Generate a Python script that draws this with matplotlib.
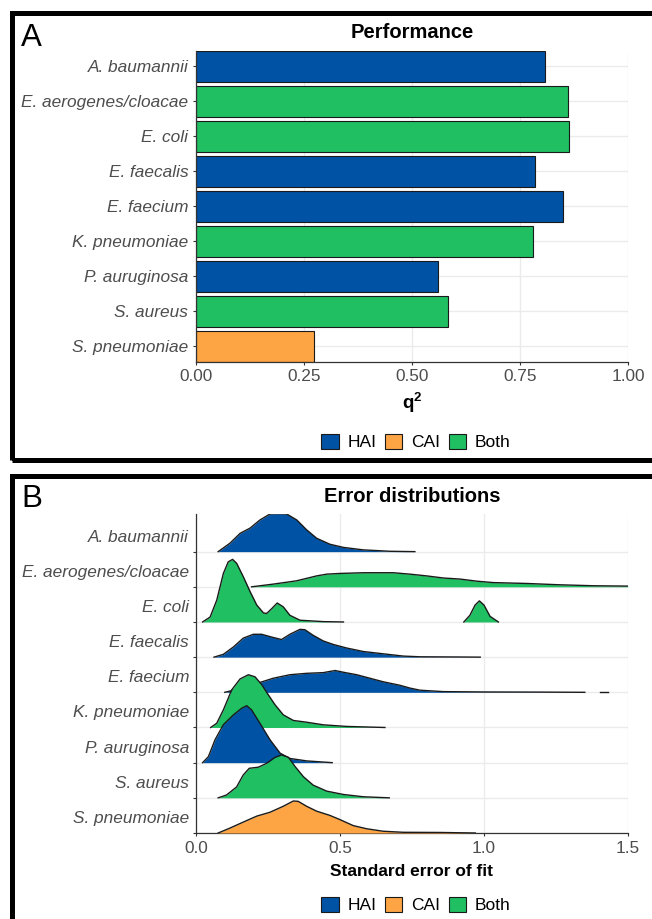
import numpy as np
import matplotlib.pyplot as plt
from matplotlib.patches import Patch, Rectangle

plt.rcParams['font.family'] = ['Liberation Sans', 'DejaVu Sans']
plt.rcParams['mathtext.fontset'] = 'custom'
plt.rcParams['mathtext.rm'] = 'Liberation Sans'
plt.rcParams['mathtext.bf'] = 'Liberation Sans:bold'

# ---- data ----
species = ['A. baumannii', 'E. aerogenes/cloacae', 'E. coli', 'E. faecalis',
           'E. faecium', 'K. pneumoniae', 'P. auruginosa', 'S. aureus',
           'S. pneumoniae']
group = ['HAI', 'Both', 'Both', 'HAI', 'HAI', 'Both', 'HAI', 'Both', 'CAI']
q2 = [0.808, 0.862, 0.864, 0.784, 0.849, 0.781, 0.561, 0.584, 0.273]

# ridge heights (in row spacings)
ab_x = [0.077, 0.118, 0.153, 0.188, 0.222, 0.257, 0.285, 0.315, 0.35, 0.384,
        0.419, 0.465, 0.512, 0.581, 0.674, 0.76]
ab_h = [0.0, 0.24, 0.52, 0.67, 0.9, 1.07, 1.08, 1.07, 0.9, 0.62, 0.38, 0.21,
        0.12, 0.05, 0.01, 0.0]

ea_x = [0.193, 0.268, 0.349, 0.384, 0.419, 0.454, 0.5, 0.581, 0.685, 0.743,
        0.801, 0.859, 0.917, 0.975, 1.032, 1.148, 1.264, 1.38, 1.5]
ea_h = [0.0, 0.076, 0.17, 0.24, 0.31, 0.36, 0.38, 0.4, 0.4, 0.36, 0.31, 0.25,
        0.22, 0.16, 0.12, 0.095, 0.057, 0.03, 0.02]

ec_x = [0.023, 0.049, 0.072, 0.095, 0.112, 0.127, 0.141, 0.164, 0.188, 0.211,
        0.234, 0.245, 0.263, 0.282, 0.303, 0.326, 0.361, 0.442, 0.512]
ec_h = [0.0, 0.14, 0.62, 1.38, 1.71, 1.78, 1.67, 1.29, 0.86, 0.48, 0.26, 0.24,
        0.38, 0.54, 0.43, 0.19, 0.05, 0.01, 0.0]
ec2_x = [0.93, 0.951, 0.969, 0.984, 1.0, 1.021, 1.05]
ec2_h = [0.0, 0.19, 0.48, 0.6, 0.48, 0.16, 0.0]

ef_x = [0.0625, 0.095, 0.13, 0.164, 0.199, 0.228, 0.263, 0.297, 0.326, 0.361,
        0.378, 0.407, 0.442, 0.477, 0.523, 0.581, 0.65, 0.72, 0.778, 0.9, 0.987]
ef_h = [0.0, 0.08, 0.29, 0.54, 0.65, 0.65, 0.57, 0.5, 0.65, 0.79, 0.78, 0.62,
        0.46, 0.36, 0.26, 0.16, 0.095, 0.03, 0.01, 0.005, 0.0]

efm_x = [0.1, 0.15, 0.2, 0.222, 0.268, 0.326, 0.384, 0.442, 0.483, 0.512,
         0.558, 0.604, 0.65, 0.708, 0.743, 0.778, 0.859, 1.0, 1.2, 1.35]
efm_h = [0.0, 0.1, 0.22, 0.28, 0.4, 0.5, 0.54, 0.56, 0.62, 0.57, 0.5, 0.4,
         0.3, 0.2, 0.12, 0.06, 0.02, 0.01, 0.006, 0.0]
efm2_x = [1.403, 1.432]
efm2_h = [0.01, 0.01]

kp_x = [0.051, 0.072, 0.095, 0.124, 0.153, 0.182, 0.205, 0.228, 0.251, 0.274,
        0.303, 0.338, 0.384, 0.442, 0.523, 0.656]
kp_h = [0.0, 0.12, 0.5, 1.07, 1.38, 1.5, 1.44, 1.22, 0.93, 0.65, 0.36, 0.2,
        0.15, 0.076, 0.03, 0.0]

pa_x = [0.023, 0.043, 0.066, 0.095, 0.13, 0.159, 0.176, 0.193, 0.222, 0.257,
        0.292, 0.326, 0.384, 0.473]
pa_h = [0.0, 0.17, 0.65, 1.08, 1.36, 1.55, 1.62, 1.5, 1.12, 0.65, 0.27, 0.12,
        0.05, 0.0]

sa_x = [0.077, 0.106, 0.141, 0.164, 0.185, 0.216, 0.245, 0.274, 0.297, 0.321,
        0.344, 0.373, 0.407, 0.454, 0.512, 0.581, 0.671]
sa_h = [0.0, 0.08, 0.31, 0.65, 0.84, 0.87, 0.98, 1.15, 1.22, 1.15, 0.89, 0.6,
        0.36, 0.19, 0.095, 0.03, 0.0]

sp_x = [0.077, 0.118, 0.164, 0.211, 0.257, 0.303, 0.338, 0.355, 0.384, 0.419,
        0.465, 0.5, 0.546, 0.593, 0.65, 0.72, 0.85, 0.97]
sp_h = [0.0, 0.14, 0.31, 0.48, 0.59, 0.76, 0.91, 0.9, 0.76, 0.62, 0.5, 0.38,
        0.21, 0.12, 0.05, 0.02, 0.015, 0.0]

ridges = [[(ab_x, ab_h)], [(ea_x, ea_h)], [(ec_x, ec_h), (ec2_x, ec2_h)],
          [(ef_x, ef_h)], [(efm_x, efm_h), (efm2_x, efm2_h)], [(kp_x, kp_h)],
          [(pa_x, pa_h)], [(sa_x, sa_h)], [(sp_x, sp_h)]]

colors = {'HAI': '#0053A4', 'CAI': '#FDA545', 'Both': '#20BF62'}
grid_c = '#EBEBEB'
text_c = '#4D4D4D'

W, H = 652, 919
def fx(px):
    return px / W
def fy(py):
    return 1 - py / H

fig = plt.figure(figsize=(6.52, 9.19), dpi=100)

def style(ax):
    for s in ['top', 'right']:
        ax.spines[s].set_visible(False)
    for s in ['left', 'bottom']:
        ax.spines[s].set_color('#333333')
        ax.spines[s].set_linewidth(0.9)
        ax.spines[s].set_zorder(20)
    ax.tick_params(length=2.5, width=0.8, color='#333333', labelcolor=text_c,
                   labelsize=12.4, pad=3)

pos = np.arange(len(species))[::-1] + 1

# ---- panel A ----
axA = fig.add_axes([fx(196), fy(361.7), fx(628) - fx(196), fy(51) - fy(361.7)])
axA.barh(pos, q2, height=0.88, color=[colors[g] for g in group],
         edgecolor='#1a1a1a', linewidth=0.8, zorder=3)
axA.set_xlim(0, 1)
axA.set_ylim(0.56, 9.44)
axA.set_xticks([0, 0.25, 0.5, 0.75, 1.0])
axA.set_xticklabels(['0.00', '0.25', '0.50', '0.75', '1.00'])
axA.set_yticks(pos)
axA.set_yticklabels(species, style='italic')
axA.grid(True, color=grid_c, linewidth=1.0, zorder=0)
axA.set_axisbelow(True)
style(axA)

fig.text(fx(412), fy(33), 'Performance', ha='center', va='center',
         fontsize=14.5, fontweight='bold')
fig.text(fx(412), fy(403), r'$\mathbf{q}^{\mathbf{2}}$', ha='center',
         va='center', fontsize=13.5)

# ---- panel B ----
axB = fig.add_axes([fx(196), fy(833), fx(628) - fx(196), fy(514) - fy(833)])
for i, segs in enumerate(ridges):
    base = pos[i]
    c = colors[group[i]]
    for xs, hs in segs:
        top = [base + h for h in hs]
        axB.fill_between(xs, base, top, color=c, linewidth=0, zorder=5 + 2 * i)
        axB.plot(xs, top, color='#1a1a1a', linewidth=1.0, zorder=6 + 2 * i)
axB.set_xlim(0, 1.5)
axB.set_ylim(1, 10.07)
axB.set_xticks([0, 0.5, 1.0, 1.5])
axB.set_xticklabels(['0.0', '0.5', '1.0', '1.5'])
axB.set_yticks(pos)
axB.set_yticklabels([])
axB.grid(True, color=grid_c, linewidth=1.0, zorder=0)
axB.set_axisbelow(True)
style(axB)
for i, name in enumerate(species):
    axB.annotate(name, xy=(0, pos[i]), xycoords=('axes fraction', 'data'),
                 xytext=(-7, 10), textcoords='offset pixels', ha='right',
                 va='baseline', fontsize=12.4, style='italic', color=text_c)

fig.text(fx(412), fy(496), 'Error distributions', ha='center', va='center',
         fontsize=14.5, fontweight='bold')
fig.text(fx(412), fy(872), 'Standard error of fit', ha='center', va='center',
         fontsize=12.5, fontweight='bold')

# ---- legends ----
handles = [Patch(facecolor=colors[k], edgecolor='#1a1a1a', linewidth=0.8, label=k)
           for k in ['HAI', 'CAI', 'Both']]
for ly in [442, 905]:
    fig.legend(handles=handles, loc='center', bbox_to_anchor=(fx(416), fy(ly)),
               ncol=3, frameon=False, fontsize=12.5, handlelength=1.0,
               handleheight=1.0, handletextpad=0.5, columnspacing=0.5)

# ---- panel frames and letters ----
fig.add_artist(Rectangle((fx(11.5), fy(459.5)), 1.2, fy(12.5) - fy(459.5),
                         transform=fig.transFigure, fill=False,
                         edgecolor='black', linewidth=3.6))
fig.add_artist(Rectangle((fx(11.5), -0.1), 1.2, fy(476) + 0.1,
                         transform=fig.transFigure, fill=False,
                         edgecolor='black', linewidth=3.6))
fig.text(fx(21), fy(38), 'A', ha='left', va='center', fontsize=22.5)
fig.text(fx(21), fy(499), 'B', ha='left', va='center', fontsize=22.5)

fig.savefig('out.png', dpi=100)
